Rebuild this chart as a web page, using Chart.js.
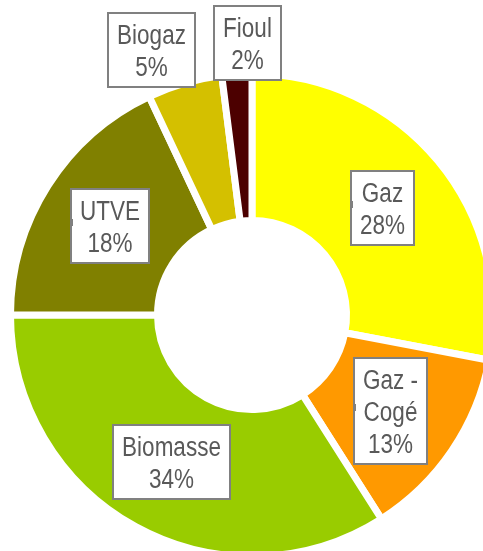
<!DOCTYPE html>
<html>
<head>
<meta charset="utf-8">
<script src="https://cdn.jsdelivr.net/npm/chart.js@4/dist/chart.umd.min.js"></script>
<style>
    html, body { margin: 0; padding: 0; background: #fff; overflow: hidden; }
    #wrap { width: 483px; height: 551px; overflow: hidden; }
</style>
</head>
<body>
<div id="wrap"><canvas id="mix" width="504" height="630"></canvas></div>
<script>
var labels = ['Gaz', 'Gaz - Cogé', 'Biomasse', 'UTVE', 'Biogaz', 'Fioul'];
var values = [28, 13, 34, 18, 5, 2];
var colors = ['#ffff00', '#ff9900', '#99cc00', '#808000', '#d4c000', '#4c0000'];

// how each label is split on lines, and where it is moved from the slice middle
var labelLines = [['Gaz'], ['Gaz -', 'Cogé'], ['Biomasse'], ['UTVE'], ['Biogaz'], ['Fioul']];
var labelShift = [[1, 0], [0, 2], [0, 0], [0, 1], [-54, -104], [6, -104]];
var labelStub = [true, true, false, true, false, false];

var boxLabels = {
    id: 'boxLabels',
    afterDatasetsDraw: function(chart) {
        var ctx = chart.ctx;
        var arcs = chart.getDatasetMeta(0).data;
        ctx.save();
        ctx.font = '22.5px "Liberation Sans", Arial, sans-serif';
        ctx.textAlign = 'center';
        ctx.textBaseline = 'alphabetic';
        arcs.forEach(function(arc, i) {
            var p = arc.tooltipPosition();
            var lines = labelLines[i].concat([values[i] + '%']);
            var w = 0;
            lines.forEach(function(t) { w = Math.max(w, ctx.measureText(t).width); });
            w = Math.round(w + 18);
            var h = lines.length * 32 + 10;
            var cx = p.x + labelShift[i][0];
            var cy = p.y + labelShift[i][1];
            var x = Math.round(cx - w / 2);
            var y = Math.round(cy - h / 2);

            ctx.fillStyle = '#ffffff';
            ctx.fillRect(x, y, w, h);
            ctx.strokeStyle = '#808080';
            ctx.lineWidth = 2;
            ctx.strokeRect(x, y, w, h);
            if (labelStub[i]) {
                ctx.fillStyle = '#808080';
                ctx.fillRect(x - 1, y + h / 2 - 7, 3, 7);
            }

            ctx.fillStyle = '#595959';
            lines.forEach(function(t, k) {
                ctx.save();
                ctx.translate(x + w / 2, y + 30.5 + k * 32);
                ctx.scale(1, 1.2);
                ctx.fillText(t, 0, 0);
                ctx.restore();
            });
        });
        ctx.restore();
    }
};

var chartMix = new Chart(document.getElementById('mix'), {
    type: 'doughnut',
    data: {
        labels: labels,
        datasets: [{
            data: values,
            backgroundColor: colors,
            borderColor: '#ffffff',
            borderWidth: 7
        }]
    },
    options: {
        responsive: false,
        animation: false,
        radius: 241.5,
        cutout: '39.13%',
        layout: { padding: 0 },
        plugins: {
            legend: { display: false },
            tooltip: { enabled: false }
        }
    },
    plugins: [boxLabels]
});
</script>
</body>
</html>
